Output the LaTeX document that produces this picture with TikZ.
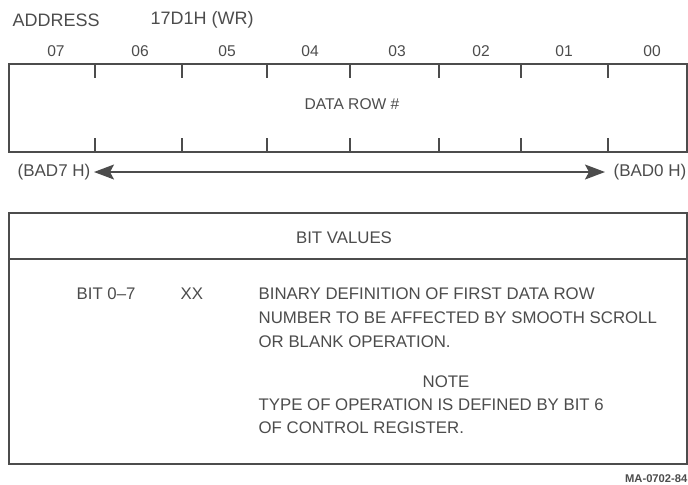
\documentclass[tikz,border=0pt]{standalone}
\usepackage{fontspec}
\setmainfont{Liberation Sans}
\definecolor{inkgray}{gray}{0.3}
\usetikzlibrary{arrows.meta,positioning}

\begin{document}
\begin{tikzpicture}[x=0.5pt,y=-0.5pt,line width=0.65pt,draw=inkgray,text=inkgray,inner sep=0pt,
  headtxt/.style={font=\fontsize{9}{11}\selectfont},
  bittxt/.style={font=\fontsize{7.8}{9}\selectfont},
  bodytxt/.style={font=\fontsize{8.4}{11.5}\selectfont}]
  \useasboundingbox (0,0) rectangle (688,484);
  % Address line
  \node[headtxt,anchor=west] (addr) at (12,20) {ADDRESS};
  \node[headtxt,anchor=west] (regaddr) at (150,20) {17D1H (WR)};
  % Register box
  \draw (9,64) rectangle (687,152);
  \foreach \x in {95,182,267,350,439,521,608} {
    \draw (\x,64) -- (\x,78);
    \draw (\x,138) -- (\x,152);
  }
  \foreach \b/\x in {07/56,06/140,05/227,04/310,03/397,02/481,01/564,00/652}
    \node[bittxt] (bit\b) at (\x,51) {\b};
  \node[bittxt] (datarow) at (352,104) {DATA ROW \#};
  % Address range
  \node[headtxt,font=\fontsize{8.5}{10}\selectfont,anchor=west] (hiaddr) at (17,172) {(BAD7 H)};
  \node[headtxt,font=\fontsize{8.5}{10}\selectfont,anchor=east] (loaddr) at (687,172) {(BAD0 H)};
  \draw[{Stealth[length=10pt,width=7.5pt,inset=2pt]}-{Stealth[length=10pt,width=7.5pt,inset=2pt]},shorten <=1.5pt,shorten >=4pt]
    (hiaddr.east) -- (loaddr.west);
  % Bit values box
  \draw (9,213) rectangle (687,464);
  \draw (9,259) -- (687,259);
  \node[bodytxt] (bitvalues) at (344,238) {BIT VALUES};
  \node[bodytxt,anchor=west] (bitrange) at (76,294) {BIT 0--7};
  \node[bodytxt,anchor=west] (bitxx) at (180,294) {XX};
  \node[bodytxt,anchor=west] (desca) at (258,294) {BINARY DEFINITION OF FIRST DATA ROW};
  \node[bodytxt,anchor=west] (descb) at (258,318) {NUMBER TO BE AFFECTED BY SMOOTH SCROLL};
  \node[bodytxt,anchor=west] (descc) at (258,342) {OR BLANK OPERATION.};
  % Note
  \node[bodytxt] (note) at (446,382) {NOTE};
  \node[bodytxt,anchor=west] (notea) at (258,405) {TYPE OF OPERATION IS DEFINED BY BIT 6};
  \node[bodytxt,anchor=west] (noteb) at (258,428) {OF CONTROL REGISTER.};
  \node[font=\fontsize{5.6}{7}\selectfont\bfseries,anchor=east] (figid) at (688,479) {MA-0702-84};
\end{tikzpicture}
\end{document}
